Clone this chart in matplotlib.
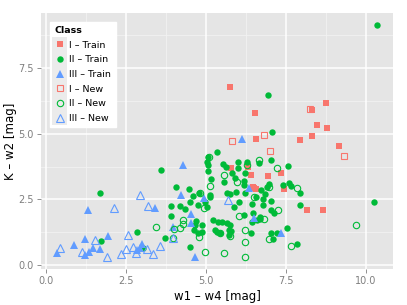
import matplotlib
matplotlib.use("Agg")
import matplotlib.pyplot as plt
from matplotlib.legend_handler import HandlerLine2D
from matplotlib.patches import Rectangle

# Class I (training): filled squares
i_train_x = [5.75, 6.52, 8.74, 8.32, 8.48, 8.79, 8.32, 7.93, 6.56, 9.16, 5.78, 6.32,
             6.41, 6.51, 6.93, 7.34, 6.48, 6.56, 7.42, 8.15, 8.65]
i_train_y = [6.79, 5.81, 6.17, 5.92, 5.33, 5.23, 4.90, 4.78, 4.80, 4.52, 3.68, 3.75,
             3.44, 2.93, 3.40, 3.52, 2.99, 2.89, 2.89, 2.10, 2.10]

# Class II (training): filled circles
ii_train_x = [10.34, 6.94, 7.06, 10.25, 3.58, 1.67, 4.06, 4.45, 4.58, 4.79, 3.90, 4.17,
              4.50, 4.34, 4.76, 3.90, 4.69, 2.83, 1.71, 3.70, 3.04, 4.50, 4.63, 4.74,
              4.66, 5.33, 5.07, 5.02, 5.05, 5.05, 5.54, 5.61, 5.99, 6.01, 6.27, 6.22,
              5.16, 5.57, 5.80, 5.91, 6.17, 6.17, 5.93, 6.64, 7.02, 7.57, 7.40, 7.60,
              6.98, 6.90, 6.72, 6.84, 7.02, 6.77, 6.56, 6.43, 6.04, 5.88, 6.22, 5.65,
              5.13, 4.97, 7.94, 7.54, 7.85, 7.02, 7.13, 6.48, 6.43, 6.17, 5.21, 5.38,
              5.50, 5.65, 5.75, 5.70, 5.28, 4.87, 4.87, 6.40, 7.02, 7.08, 6.67, 5.02,
              5.33, 5.44, 5.78, 5.70, 6.58, 6.69, 5.13, 5.75, 7.66, 7.94, 6.79, 7.23]
ii_train_y = [9.16, 6.49, 5.08, 2.39, 3.63, 2.76, 2.99, 2.89, 2.63, 2.74, 2.25, 2.25,
              2.42, 2.13, 2.29, 1.87, 1.68, 1.27, 0.93, 1.04, 0.66, 0.68, 1.34, 1.23,
              1.53, 4.29, 4.13, 3.94, 3.82, 3.60, 3.84, 3.75, 3.94, 3.69, 3.94, 3.50,
              3.27, 3.18, 3.52, 3.31, 3.22, 3.05, 2.80, 3.88, 4.01, 3.78, 3.05, 3.14,
              3.08, 2.99, 2.86, 2.71, 2.45, 2.51, 2.61, 2.33, 2.42, 2.23, 2.74, 2.74,
              2.61, 2.42, 2.29, 1.40, 0.79, 2.10, 2.00, 1.97, 1.65, 1.91, 1.72, 1.65,
              1.65, 1.61, 1.53, 1.34, 1.34, 1.53, 1.27, 1.23, 1.21, 0.98, 1.74, 2.20,
              1.27, 1.23, 1.31, 1.15, 1.72, 1.84, 2.67, 2.71, 3.02, 2.74, 2.29, 1.21]

# Class III (training): filled triangles
iii_train_x = [4.27, 4.22, 3.41, 1.32, 4.53, 4.52, 3.98, 1.92, 1.22, 0.88, 2.99, 2.94,
               2.83, 1.46, 1.69, 1.35, 1.22, 0.35, 4.64, 6.13, 4.94, 6.35, 6.50, 7.34]
iii_train_y = [3.82, 2.67, 2.19, 2.10, 1.93, 1.59, 1.44, 1.12, 0.98, 0.76, 0.80, 0.64,
               0.57, 0.66, 0.60, 0.51, 0.38, 0.45, 0.29, 4.80, 2.55, 2.93, 1.78, 1.21]

# Class I (new): open squares
i_new_x = [8.26, 5.82, 6.82, 7.00, 9.31]
i_new_y = [5.94, 4.72, 4.95, 4.33, 4.15]

# Class II (new): open circles
ii_new_x = [9.69, 3.44, 4.00, 4.27, 3.98, 4.19, 4.79, 4.29, 5.09, 6.64, 5.13, 5.96,
            6.27, 5.56, 7.23, 7.83, 4.94, 6.04, 6.81, 7.26, 6.22, 5.44, 6.95, 6.22,
            7.65, 4.97, 5.56, 6.22, 6.50, 5.75, 6.97, 4.81]
ii_new_y = [1.53, 1.46, 1.37, 1.72, 1.02, 1.40, 1.06, 1.56, 4.11, 4.01, 3.02, 3.18,
            3.82, 3.44, 3.69, 2.93, 2.16, 1.87, 1.74, 2.10, 1.34, 1.21, 0.98, 0.87,
            0.73, 0.51, 0.45, 0.29, 2.61, 1.11, 2.99, 2.76]

# Class III (new): open triangles
iii_new_x = [2.94, 2.13, 3.17, 2.57, 1.53, 0.44, 1.12, 1.90, 2.33, 2.50, 2.73, 2.81,
             3.15, 3.35, 3.56, 3.98, 5.67]
iii_new_y = [2.67, 2.16, 2.25, 1.15, 0.95, 0.64, 0.48, 0.32, 0.42, 0.61, 0.70, 0.45,
             0.60, 0.42, 0.73, 1.02, 2.48]

TICKS = [0.0, 2.5, 5.0, 7.5, 10.0]
MINOR = [1.25, 3.75, 6.25, 8.75]

RED, GREEN, BLUE = "#F8766D", "#00BA38", "#619CFF"


class KeyHandler(HandlerLine2D):
    """Legend key with the grey ggplot-style background square."""

    def create_artists(self, legend, orig_handle, xdescent, ydescent, width,
                       height, fontsize, trans):
        arts = super().create_artists(legend, orig_handle, xdescent, ydescent,
                                      width, height, fontsize, trans)
        cx = -xdescent + width / 2
        cy = -ydescent + height / 2
        side = 11.0
        bg = Rectangle((cx - side / 2, cy - side / 2), side, side,
                       facecolor="#EBEBEB", edgecolor="none", transform=trans)
        return [bg] + arts


fig = plt.figure(figsize=(4.07, 3.05), dpi=100)
ax = fig.add_axes([0.1007, 0.118, 0.8649, 0.839])
ax.set_facecolor("#E5E5E5")
for s in ax.spines.values():
    s.set_visible(False)

ax.set_xlim(-0.16, 10.84)
ax.set_ylim(-0.15, 9.6)

for v in MINOR:
    ax.axvline(v, color="#F2F2F2", lw=0.6, zorder=0)
    ax.axhline(v, color="#F2F2F2", lw=0.6, zorder=0)
for v in TICKS:
    ax.axvline(v, color="white", lw=1.1, zorder=0)
for v in TICKS[:4]:
    ax.axhline(v, color="white", lw=1.1, zorder=0)

ms_sq, ms_c, ms_t = 4.3, 4.6, 5.2
h1, = ax.plot(i_train_x, i_train_y, "s", ms=ms_sq, color=RED, mew=0, ls="none",
              label="I – Train")
h2, = ax.plot(ii_train_x, ii_train_y, "o", ms=ms_c, color=GREEN, mew=0, ls="none",
              label="II – Train")
h3, = ax.plot(iii_train_x, iii_train_y, "^", ms=ms_t, color=BLUE, mew=0, ls="none",
              label="III – Train")
h4, = ax.plot(i_new_x, i_new_y, "s", ms=ms_sq, mfc="none", mec=RED, mew=0.8,
              ls="none", label="I – New")
h5, = ax.plot(ii_new_x, ii_new_y, "o", ms=ms_c, mfc="none", mec=GREEN, mew=0.8,
              ls="none", label="II – New")
h6, = ax.plot(iii_new_x, iii_new_y, "^", ms=ms_t, mfc="none", mec=BLUE, mew=0.8,
              ls="none", label="III – New")

ax.set_xticks(TICKS)
ax.set_xticklabels([f"{t:.1f}" for t in TICKS])
ax.set_yticks(TICKS[:4])
ax.set_yticklabels([f"{t:.1f}" for t in TICKS[:4]])
ax.tick_params(axis="both", labelsize=7, colors="#7F7F7F", length=3, width=0.6,
               pad=2)
ax.set_xlabel("w1 – w4 [mag]", fontsize=8.5, labelpad=3)
ax.set_ylabel("K – w2 [mag]", fontsize=8.5, labelpad=1)

handles = [h1, h2, h3, h4, h5, h6]
leg = ax.legend(handles=handles, title="Class", loc="upper left",
                bbox_to_anchor=(0.026, 0.966), fontsize=6.8, title_fontsize=6.8,
                frameon=True, fancybox=False, framealpha=1, edgecolor="white",
                handlelength=1.1, handletextpad=0.5, labelspacing=0.6,
                borderpad=0.45, borderaxespad=0,
                handler_map={h: KeyHandler() for h in handles})
leg.get_title().set_fontweight("bold")
leg._legend_box.align = "left"

fig.savefig("out.png", dpi=100)
